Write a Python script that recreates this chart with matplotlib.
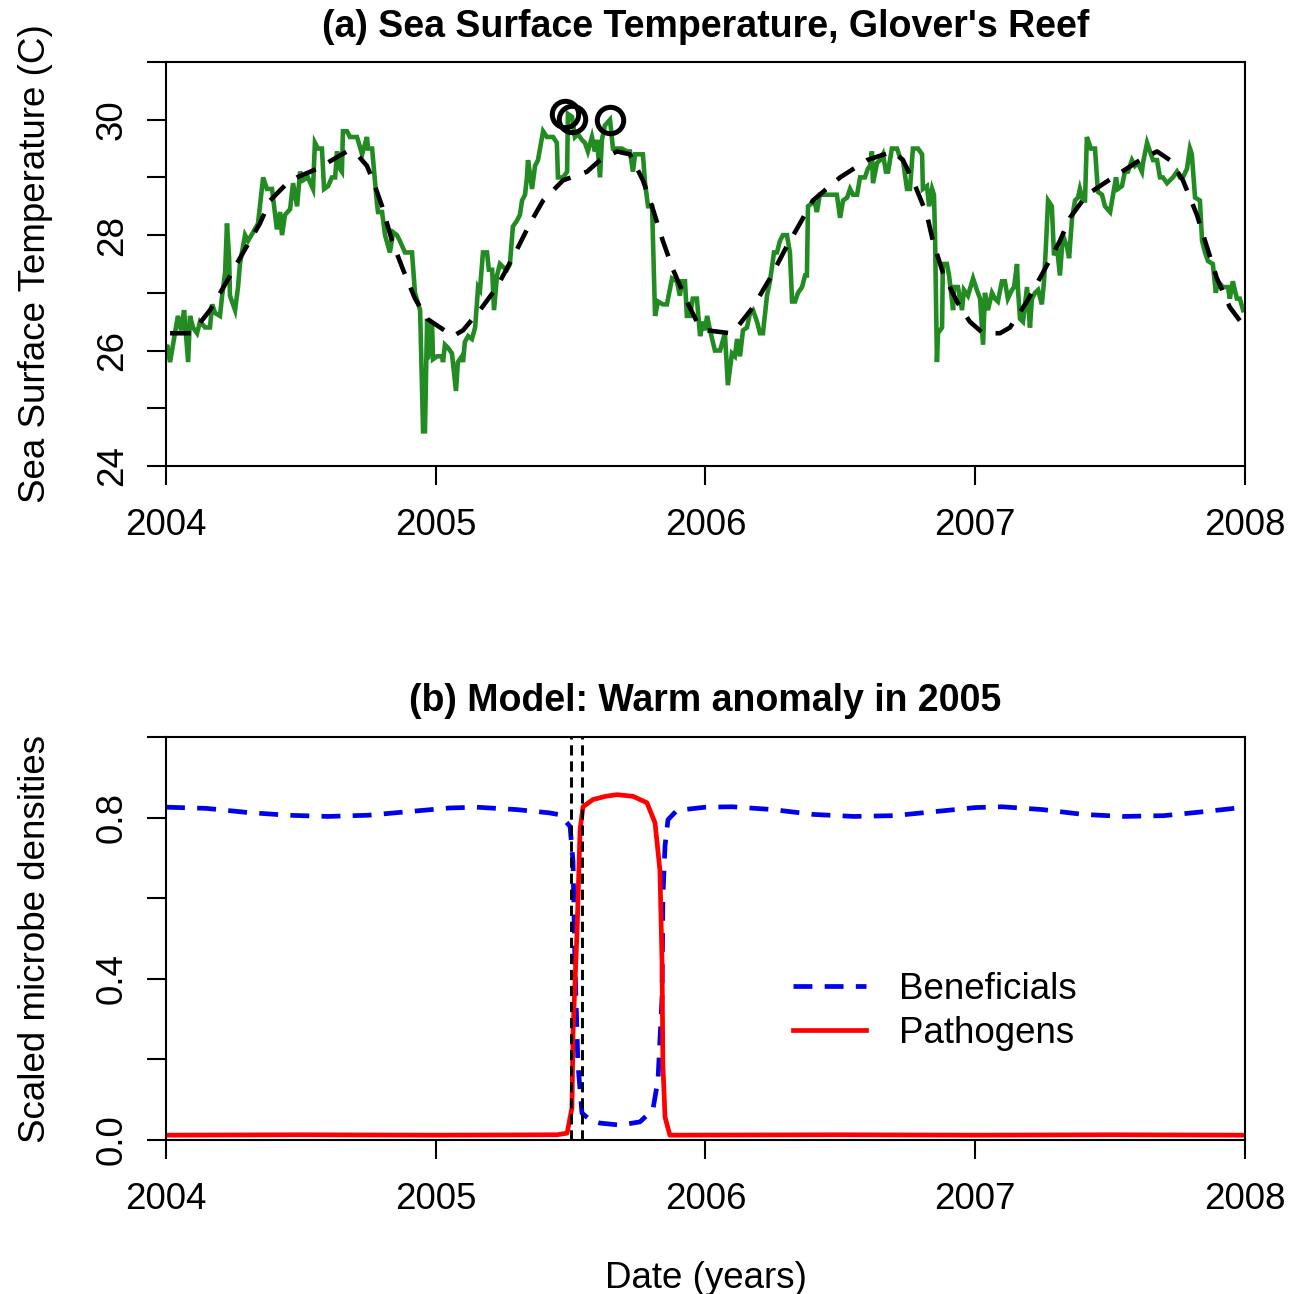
import matplotlib
matplotlib.use('Agg')
import matplotlib.pyplot as plt

plt.rcParams['font.family'] = ['Liberation Sans', 'DejaVu Sans']

# (a) weekly SST
sst_t = [2004.000, 2004.004, 2004.015, 2004.033, 2004.044, 2004.056, 2004.067, 2004.082, 2004.089, 2004.100,
         2004.115, 2004.126, 2004.145, 2004.163, 2004.171, 2004.182, 2004.200, 2004.208, 2004.219, 2004.226,
         2004.234, 2004.237, 2004.256, 2004.267, 2004.274, 2004.293, 2004.304, 2004.323, 2004.341, 2004.360,
         2004.374, 2004.393, 2004.411, 2004.423, 2004.430, 2004.441, 2004.460, 2004.471, 2004.486, 2004.497,
         2004.508, 2004.526, 2004.545, 2004.552, 2004.563, 2004.578, 2004.586, 2004.601, 2004.615, 2004.627,
         2004.634, 2004.645, 2004.652, 2004.656, 2004.671, 2004.682, 2004.708, 2004.727, 2004.745, 2004.749,
         2004.764, 2004.782, 2004.786, 2004.801, 2004.812, 2004.830, 2004.842, 2004.856, 2004.867, 2004.886,
         2004.912, 2004.923, 2004.942, 2004.953, 2004.960, 2004.968, 2004.971, 2004.986, 2004.990, 2005.005,
         2005.023, 2005.027, 2005.034, 2005.045, 2005.060, 2005.075, 2005.082, 2005.097, 2005.101, 2005.108,
         2005.120, 2005.134, 2005.146, 2005.157, 2005.164, 2005.175, 2005.190, 2005.197, 2005.209, 2005.216,
         2005.227, 2005.238, 2005.249, 2005.264, 2005.275, 2005.286, 2005.301, 2005.312, 2005.320, 2005.331,
         2005.338, 2005.342, 2005.357, 2005.368, 2005.379, 2005.398, 2005.412, 2005.435, 2005.449, 2005.453,
         2005.472, 2005.487, 2005.490, 2005.505, 2005.516, 2005.527, 2005.542, 2005.553, 2005.564, 2005.579,
         2005.590, 2005.598, 2005.609, 2005.616, 2005.627, 2005.646, 2005.657, 2005.672, 2005.690, 2005.709,
         2005.720, 2005.731, 2005.739, 2005.768, 2005.776, 2005.787, 2005.802, 2005.813, 2005.824, 2005.842,
         2005.857, 2005.876, 2005.894, 2005.905, 2005.913, 2005.924, 2005.931, 2005.942, 2005.953, 2005.968,
         2005.980, 2005.991, 2005.998, 2006.006, 2006.017, 2006.035, 2006.054, 2006.072, 2006.083, 2006.098,
         2006.109, 2006.117, 2006.128, 2006.139, 2006.154, 2006.165, 2006.176, 2006.191, 2006.202, 2006.213,
         2006.228, 2006.239, 2006.254, 2006.265, 2006.276, 2006.287, 2006.302, 2006.313, 2006.321, 2006.332,
         2006.343, 2006.358, 2006.369, 2006.376, 2006.380, 2006.395, 2006.406, 2006.413, 2006.424, 2006.450,
         2006.473, 2006.487, 2006.499, 2006.510, 2006.525, 2006.536, 2006.547, 2006.562, 2006.573, 2006.591,
         2006.602, 2006.610, 2006.617, 2006.621, 2006.636, 2006.647, 2006.658, 2006.669, 2006.677, 2006.691,
         2006.710, 2006.721, 2006.732, 2006.747, 2006.758, 2006.769, 2006.788, 2006.803, 2006.806, 2006.821,
         2006.829, 2006.840, 2006.847, 2006.851, 2006.858, 2006.862, 2006.877, 2006.880, 2006.895, 2006.903,
         2006.918, 2006.921, 2006.936, 2006.951, 2006.958, 2006.973, 2006.992, 2007.006, 2007.018, 2007.029,
         2007.036, 2007.047, 2007.062, 2007.073, 2007.084, 2007.099, 2007.110, 2007.121, 2007.136, 2007.144,
         2007.155, 2007.158, 2007.166, 2007.177, 2007.192, 2007.203, 2007.210, 2007.222, 2007.233, 2007.247,
         2007.255, 2007.262, 2007.270, 2007.284, 2007.292, 2007.303, 2007.314, 2007.325, 2007.340, 2007.348,
         2007.359, 2007.370, 2007.381, 2007.388, 2007.399, 2007.407, 2007.414, 2007.429, 2007.444, 2007.455,
         2007.470, 2007.481, 2007.500, 2007.511, 2007.522, 2007.529, 2007.544, 2007.555, 2007.566, 2007.581,
         2007.592, 2007.603, 2007.618, 2007.622, 2007.637, 2007.648, 2007.659, 2007.674, 2007.685, 2007.696,
         2007.711, 2007.722, 2007.733, 2007.748, 2007.759, 2007.770, 2007.785, 2007.796, 2007.803, 2007.815,
         2007.833, 2007.841, 2007.852, 2007.863, 2007.881, 2007.892, 2007.900, 2007.918, 2007.937, 2007.944,
         2007.955, 2007.970, 2007.981, 2007.993]
sst_v = [26.0, 26.1, 25.8, 26.3, 26.6, 26.35, 26.7, 25.8, 26.6, 26.4,
         26.3, 26.5, 26.4, 26.4, 26.8, 26.65, 26.6, 26.95, 27.35, 28.2,
         27.6, 26.95, 26.7, 27.1, 27.5, 28.0, 27.9, 28.05, 28.2, 29.0,
         28.8, 28.8, 28.1, 28.4, 28.0, 28.35, 28.45, 28.9, 28.5, 29.1,
         28.95, 29.0, 28.8, 29.6, 29.5, 29.5, 28.8, 28.85, 29.0, 29.0,
         29.45, 29.15, 29.1, 29.8, 29.8, 29.7, 29.7, 29.4, 29.7, 29.5,
         29.5, 28.55, 28.4, 28.4, 28.0, 27.7, 28.05, 28.0, 27.9, 27.7,
         27.7, 27.0, 26.7, 24.6, 24.6, 26.55, 25.85, 26.5, 25.85, 25.9,
         25.9, 25.8, 26.1, 26.05, 25.95, 25.3, 25.8, 25.9, 25.8, 26.15,
         26.25, 26.2, 26.4, 27.1, 27.05, 27.7, 27.7, 27.4, 27.4, 26.7,
         27.3, 27.5, 27.45, 27.4, 27.5, 28.15, 28.25, 28.35, 28.6, 28.7,
         29.0, 29.3, 28.8, 29.2, 29.3, 29.8, 29.7, 29.7, 29.6, 29.0,
         29.0, 29.1, 30.1, 30.05, 29.7, 29.75, 29.65, 29.6, 29.45, 29.7,
         29.45, 29.65, 29.0, 29.65, 29.9, 30.0, 29.5, 29.5, 29.5, 29.45,
         29.45, 29.1, 29.4, 29.4, 28.9, 28.5, 28.5, 26.6, 26.85, 26.8,
         26.8, 27.25, 27.2, 26.95, 27.2, 27.2, 26.6, 26.6, 26.9, 26.9,
         26.25, 26.5, 26.35, 26.6, 26.35, 26.0, 26.0, 26.3, 25.4, 25.95,
         25.9, 26.2, 25.9, 26.35, 26.4, 26.65, 26.7, 26.5, 26.3, 26.3,
         26.95, 27.2, 27.7, 27.7, 27.9, 28.0, 28.0, 27.7, 26.85, 26.85,
         27.0, 27.1, 27.3, 27.3, 28.5, 28.55, 28.55, 28.4, 28.7, 28.7,
         28.7, 28.7, 28.3, 28.6, 28.65, 28.8, 28.7, 28.7, 29.0, 29.0,
         29.15, 29.2, 29.45, 28.9, 29.25, 29.3, 29.4, 29.1, 29.1, 29.5,
         29.5, 29.35, 29.3, 28.8, 28.8, 29.5, 29.5, 29.4, 28.8, 28.85,
         28.5, 28.8, 28.7, 28.0, 25.8, 26.3, 26.4, 27.5, 27.5, 27.3,
         26.7, 27.1, 27.1, 26.7, 27.05, 26.95, 27.25, 27.05, 26.9, 26.1,
         27.0, 26.7, 27.0, 26.9, 26.85, 27.2, 27.2, 26.9, 27.05, 27.1,
         27.5, 27.1, 26.55, 26.5, 27.1, 26.4, 26.9, 27.0, 27.05, 26.8,
         27.2, 27.8, 28.6, 28.5, 27.65, 27.8, 27.3, 28.0, 27.8, 27.6,
         28.3, 28.6, 28.65, 28.8, 28.6, 28.6, 29.7, 29.5, 29.5, 28.75,
         28.7, 28.5, 28.4, 28.7, 29.0, 28.8, 28.85, 29.1, 29.1, 29.3,
         29.2, 29.25, 29.1, 29.25, 29.6, 29.45, 29.3, 29.3, 29.0, 29.0,
         28.9, 28.95, 29.0, 29.1, 29.0, 29.0, 29.15, 29.5, 29.4, 28.65,
         28.6, 27.9, 27.7, 27.55, 27.5, 27.0, 27.2, 27.1, 27.1, 26.9,
         27.2, 26.9, 26.9, 26.7]

# climatology (dashed)
clim_t = [2004.015, 2004.096, 2004.163, 2004.226, 2004.274, 2004.323, 2004.348, 2004.386, 2004.449, 2004.486,
          2004.560, 2004.597, 2004.671, 2004.708, 2004.745, 2004.767, 2004.801, 2004.838, 2004.879, 2004.923,
          2004.968, 2005.064, 2005.101, 2005.164, 2005.227, 2005.301, 2005.349, 2005.398, 2005.472, 2005.561,
          2005.609, 2005.672, 2005.720, 2005.768, 2005.805, 2005.842, 2005.880, 2005.931, 2005.968, 2006.006,
          2006.091, 2006.117, 2006.176, 2006.239, 2006.295, 2006.350, 2006.398, 2006.499, 2006.599, 2006.695,
          2006.732, 2006.769, 2006.821, 2006.843, 2006.880, 2006.932, 2006.980, 2007.029, 2007.092, 2007.129,
          2007.192, 2007.251, 2007.314, 2007.351, 2007.414, 2007.511, 2007.611, 2007.674, 2007.722, 2007.770,
          2007.822, 2007.852, 2007.896, 2007.944, 2008.000]
clim_v = [26.3, 26.3, 26.7, 27.2, 27.6, 28.0, 28.2, 28.6, 28.9, 29.0,
          29.15, 29.25, 29.45, 29.4, 29.2, 28.95, 28.5, 27.9, 27.4, 26.9,
          26.55, 26.25, 26.35, 26.7, 27.1, 27.75, 28.2, 28.6, 28.95, 29.1,
          29.3, 29.45, 29.4, 28.95, 28.45, 27.9, 27.4, 26.85, 26.5, 26.35,
          26.3, 26.4, 26.75, 27.25, 27.75, 28.2, 28.6, 29.0, 29.3, 29.45,
          29.3, 28.95, 28.35, 27.9, 27.35, 26.85, 26.5, 26.3, 26.3, 26.4,
          26.85, 27.35, 27.9, 28.3, 28.7, 29.0, 29.3, 29.45, 29.3, 28.95,
          28.35, 27.9, 27.25, 26.75, 26.4]

# anomaly markers
hot_t = [2005.479, 2005.505, 2005.646]
hot_v = [30.10, 30.02, 30.0]

# (b) model output
ben_t = [2004.0, 2004.15, 2004.3, 2004.45, 2004.6, 2004.75, 2004.9, 2005.05, 2005.15, 2005.3,
         2005.42, 2005.461, 2005.498, 2005.509, 2005.516, 2005.527, 2005.542, 2005.575, 2005.609, 2005.683,
         2005.757, 2005.805, 2005.824, 2005.839, 2005.842, 2005.850, 2005.861, 2005.894, 2006.0, 2006.1,
         2006.25, 2006.4, 2006.55, 2006.7, 2006.85, 2007.0, 2007.1, 2007.25, 2007.4, 2007.55,
         2007.7, 2007.85, 2008.0]
ben_v = [0.826, 0.823, 0.813, 0.806, 0.803, 0.806, 0.815, 0.824, 0.826, 0.820,
         0.812, 0.807, 0.778, 0.69, 0.44, 0.19, 0.067, 0.048, 0.042, 0.037,
         0.045, 0.075, 0.15, 0.355, 0.60, 0.73, 0.795, 0.818, 0.826, 0.827,
         0.820, 0.808, 0.803, 0.805, 0.815, 0.825, 0.827, 0.820, 0.808, 0.803,
         0.805, 0.815, 0.826]
pat_t = [2004.0, 2004.5, 2005.0, 2005.45, 2005.487, 2005.505, 2005.509, 2005.524, 2005.535, 2005.546,
         2005.583, 2005.63, 2005.672, 2005.731, 2005.783, 2005.813, 2005.831, 2005.839, 2005.842, 2005.850,
         2005.868, 2006.5, 2007.0, 2007.5, 2008.0]
pat_v = [0.012, 0.013, 0.012, 0.013, 0.017, 0.08, 0.27, 0.52, 0.77, 0.827,
         0.845, 0.853, 0.857, 0.853, 0.837, 0.787, 0.67, 0.44, 0.19, 0.057,
         0.012, 0.013, 0.012, 0.013, 0.012]
event_t = [2005.501, 2005.542]

year_ticks = [2004, 2005, 2006, 2007, 2008]
sst_ticks = [24, 25, 26, 27, 28, 29, 30, 31]
sst_labels = ['24', '', '26', '', '28', '', '30', '']
dens_ticks = [0.0, 0.2, 0.4, 0.6, 0.8, 1.0]
dens_labels = ['0.0', '', '0.4', '', '0.8', '']

FS = 26.5
title_font = dict(family=['Liberation Sans', 'DejaVu Sans'], weight='bold', size=27)

fig = plt.figure(figsize=(12.99, 12.94), dpi=100)
ax1 = fig.add_axes([0.1278, 0.6399, 0.8306, 0.3122])
ax2 = fig.add_axes([0.1278, 0.1190, 0.8306, 0.3114])

ax1.plot(sst_t, sst_v, color='#228B22', lw=3.3, solid_joinstyle='miter')
ax1.plot(clim_t, clim_v, color='black', lw=3.3, dashes=(4.5, 3.2))
ax1.plot(hot_t, hot_v, 'o', mfc='none', mec='black', ms=19, mew=3.6)
ax1.set_ylim(24, 31)
ax1.set_yticks(sst_ticks)
ax1.set_yticklabels(sst_labels)
ax1.set_title("(a) Sea Surface Temperature, Glover's Reef", fontdict=title_font, pad=18)
ax1.set_ylabel('Sea Surface Temperature (C)', fontsize=FS)

ax2.plot(ben_t, ben_v, color='#0000EE', lw=3.4, dashes=(4, 2.6), label='Beneficials')
ax2.plot(pat_t, pat_v, color='#FF0000', lw=3.4, label='Pathogens')
for t in event_t:
    ax2.axvline(t, color='black', lw=2.1, dashes=(3.5, 2))
ax2.set_ylim(0, 1)
ax2.set_yticks(dens_ticks)
ax2.set_yticklabels(dens_labels)
ax2.set_title('(b) Model: Warm anomaly in 2005', fontdict=title_font, pad=19)
ax2.set_ylabel('Scaled microbe densities', fontsize=FS)
ax2.set_xlabel('Date (years)', fontsize=FS)
ax2.xaxis.set_label_coords(0.5, -0.30)
ax2.legend(loc='upper left', bbox_to_anchor=(0.581, 0.417), frameon=False, fontsize=FS,
           handlelength=1.98, handletextpad=0.9, labelspacing=0.25, borderpad=0, borderaxespad=0)

for ax in (ax1, ax2):
    ax.set_xlim(2004, 2008)
    ax.set_xticks(year_ticks)
    ax.set_xticklabels([str(y) for y in year_ticks])
    ax.tick_params(direction='out', length=14, width=1.5, labelsize=FS)
    ax.tick_params(axis='x', pad=16)
    ax.tick_params(axis='y', pad=12)
    plt.setp(ax.get_yticklabels(), rotation=90, va='center')
    ax.yaxis.set_label_coords(-0.105, 0.5)
    for s in ax.spines.values():
        s.set_linewidth(1.5)

fig.savefig('out.png', dpi=100)
